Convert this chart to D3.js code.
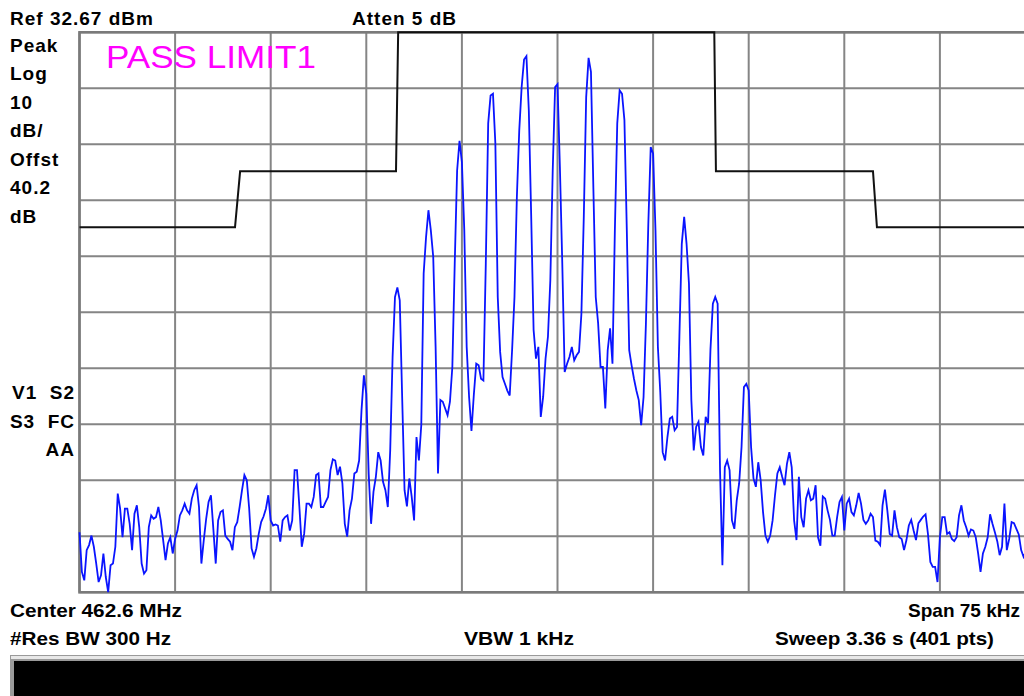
<!DOCTYPE html>
<html><head><meta charset="utf-8">
<script src="https://cdn.jsdelivr.net/npm/d3@7/dist/d3.min.js"></script>
<style>
html,body{margin:0;padding:0;background:#fff;overflow:hidden;}
svg{display:block;}
text{font-family:"Liberation Sans",Arial,sans-serif;}
</style></head><body>
<svg id="c" width="1024" height="696"></svg>
<script>
// ---- instrument settings ----
const refLevelDbm = 32.67;
const dbPerDiv = 10;
const numDivY = 10;
const numDivX = 10;
const spanKHz = 75;
const numPoints = 401;

// ---- trace (dBm), 401 sweep points ----
const traceDbm = [
-56.6,-63.7,-65.2,-59.8,-58.9,-57.2,-59.2,-62.2,-65.5,-64.3,
-60.4,-64.6,-67.3,-62.5,-62.2,-59.2,-49.7,-52.4,-57.5,-52.4,
-52.4,-55.1,-59.8,-53.3,-51.8,-55.7,-62.2,-64.0,-63.4,-55.7,
-53.6,-54.2,-53.9,-52.1,-54.5,-58.0,-61.6,-58.6,-57.5,-60.4,
-57.8,-56.3,-53.6,-52.7,-51.5,-52.7,-53.3,-50.6,-49.1,-48.2,
-52.1,-62.2,-58.0,-54.2,-51.2,-50.0,-56.0,-62.2,-54.5,-53.0,
-52.7,-57.2,-57.8,-58.3,-59.8,-55.7,-54.8,
-52.1,-49.1,-46.4,-47.3,-52.4,-59.5,-61.0,-59.5,-56.9,-54.8,
-53.8,-52.4,-50.0,-54.5,-55.4,-55.2,-55.4,-58.3,-54.5,-53.9,
-53.6,-56.3,-54.5,-45.5,-45.5,-52.1,-59.2,-56.9,-51.5,-51.5,
-52.1,-50.3,-46.4,-46.1,-52.1,-52.1,-51.2,-50.3,-45.5,-43.6,
-43.8,-46.4,-44.9,-47.9,-55.1,-57.4,-52.7,-50.6,-46.1,-45.8,
-43.8,-34.8,-28.6,-31.9,-46.1,-55.1,-49.4,-46.7,-42.3,-43.8,
-47.6,-49.1,-52.1,-42.0,
-25.3,-14.6,-12.9,-15.2,-32.4,-49.1,-52.0,-47.0,-50.3,-54.5,
-39.6,-43.8,-37.5,-10.4,-3.9,0.9,-2.7,-7.4,-23.5,-46.1,
-33.0,-33.3,-34.5,-35.7,-33.3,-27.1,-8.6,8.0,13.3,9.5,
-2.7,-23.5,-32.4,-38.5,-32.0,-26.5,-26.8,-29.2,-29.5,-8.6,
16.4,21.4,21.7,12.8,-14.6,-24.4,-28.9,-30.1,-31.3,-32.2,
-24.1,-14.6,3.3,15.2,22.9,27.8,28.4,18.7,-0.3,-20.5,
-25.6,-23.5,-36.0,-32.4,-25.6,-21.7,-11.6,8.0,22.9,23.4,
8.6,-8.6,-28.0,-26.5,-25.3,-23.5,-25.9,-25.0,-24.4,-17.6,
-0.3,21.1,28.1,25.6,5.0,-14.6,-19.3,-27.1,-27.1,-34.5,
-24.1,-20.2,-26.5,-2.7,16.4,22.3,21.7,17.0,-2.7,-24.1,
-26.8,-29.2,-31.3,-33.0,-37.5,-32.5,-19.3,-1.5,12.2,11.0,
-2.7,-23.5,-31.6,-42.3,-43.8,-39.6,-36.3,-36.0,-38.4,-37.8,
-21.7,-5.1,-0.3,-5.1,-12.2,-33.0,-42.0,-37.8,-36.9,-41.4,
-42.9,-36.0,-37.2,-24.0,-15.8,-14.6,-15.8,
-45.5,-62.5,-45.0,-43.8,-45.5,-54.5,-56.0,-50.9,-47.9,-41.4,
-30.7,-30.1,-31.3,-41.4,-47.0,-48.5,-44.1,-47.3,-53.0,-57.2,
-58.3,-57.2,-54.5,-50.0,-46.1,-45.0,-46.7,-48.2,-44.4,-42.3,
-45.0,-54.5,-58.0,-46.7,-53.9,-55.7,-50.6,-49.1,-50.9,-50.6,
-48.2,-57.5,-59.0,-50.2,-50.6,-52.7,-54.4,-57.2,-57.2,-53.9,
-51.2,-50.3,-56.3,-51.5,-50.6,-53.0,-53.6,-51.8,-49.6,-51.5,
-54.4,-55.1,-54.5,-53.3,-53.9,-58.1,
-58.3,-58.9,-51.8,-49.0,-52.7,-56.9,-57.2,-52.7,-55.7,-57.5,
-57.8,-59.8,-58.0,-55.4,-54.4,-56.3,-58.0,-55.0,-54.4,-53.8,
-53.4,-56.9,-61.9,-62.8,-62.8,-65.5,-57.5,-53.9,-53.9,-56.9,
-56.6,-57.8,-58.2,-57.5,-53.6,-51.8,-54.5,-55.7,-57.2,-56.1,
-56.3,-57.5,-60.4,-63.7,-60.4,-59.2,-57.5,-53.4,-55.1,-56.6,
-58.2,-60.7,-59.2,-51.5,-59.8,-57.8,-54.8,-55.0,-56.0,-57.0,
-59.8,-61.0,-60.0,-58.0,-57.0,-59.0,-60.0
];

// ---- limit line 1 (frequency offset kHz, dBm) ----
const limitFreqKHz = [-37.5, -25.3, -24.9, -12.67, -12.5, 12.3, 12.43, 24.75, 25.06, 37.5];
const limitDbm     = [-2.15, -2.15, 7.85, 7.85, 32.67, 32.67, 7.85, 7.85, -2.15, -2.15];

// ---- annotation texts ----
const topLeftText = "Ref 32.67 dBm";
const topMidText = "Atten 5 dB";
const sideLabelsTop = ["Peak", "Log", "10", "dB/", "Offst", "40.2", "dB"];
const sideLabelsBottom = ["V1  S2", "S3  FC", "AA"];
const passText = "PASS LIMIT1";
const bottomRow1 = ["Center 462.6 MHz", "Span 75 kHz"];
const bottomRow2 = ["#Res BW 300 Hz", "VBW 1 kHz", "Sweep 3.36 s (401 pts)"];

const svg = d3.select("#c");
const W = 1024, H = 696;
svg.append("rect").attr("width", W).attr("height", H).attr("fill", "#fff");

const plot = {left: 79.5, right: 1035.5, top: 32.3, bottom: 592.3};
const x = d3.scaleLinear().domain([-spanKHz / 2, spanKHz / 2]).range([plot.left, plot.right]);
const y = d3.scaleLinear().domain([refLevelDbm - dbPerDiv * numDivY, refLevelDbm]).range([plot.bottom, plot.top]);
const idx = d3.scaleLinear().domain([0, numPoints - 1]).range([-spanKHz / 2, spanKHz / 2]);

// grid
const gx = d3.range(numDivX + 1).map(k => -spanKHz / 2 + k * spanKHz / numDivX);
const gy = d3.range(numDivY + 1).map(k => refLevelDbm - k * dbPerDiv);
const grid = svg.append("g").attr("stroke", "#858585").attr("stroke-width", 2);
grid.selectAll("line.v").data(gx).join("line").attr("class", "v")
  .attr("x1", d => x(d)).attr("x2", d => x(d)).attr("y1", plot.top).attr("y2", plot.bottom);
grid.selectAll("line.h").data(gy).join("line").attr("class", "h")
  .attr("x1", plot.left).attr("x2", plot.right).attr("y1", d => y(d)).attr("y2", d => y(d));
svg.append("rect").attr("x", plot.left).attr("y", plot.top)
  .attr("width", plot.right - plot.left).attr("height", plot.bottom - plot.top)
  .attr("fill", "none").attr("stroke", "#7a7a7a").attr("stroke-width", 2.6);

// limit line
const limPts = limitFreqKHz.map((f, i) => [f, limitDbm[i]]);
svg.append("path").datum(limPts)
  .attr("d", d3.line().x(d => x(d[0])).y(d => y(d[1])))
  .attr("fill", "none").attr("stroke", "#111").attr("stroke-width", 2);

// trace
svg.append("path").datum(traceDbm)
  .attr("d", d3.line().x((d, i) => x(idx(i))).y(d => y(d)))
  .attr("fill", "none").attr("stroke", "#0a14ff").attr("stroke-width", 1.8)
  .attr("stroke-linejoin", "miter");

// texts
const bold = {"font-weight": "bold", "font-size": "19px", "fill": "#000", "letter-spacing": "1px"};
function txt(s, xx, yy, anchor, opts) {
  const t = svg.append("text").attr("x", xx).attr("y", yy).attr("text-anchor", anchor || "start").text(s);
  Object.entries(opts || bold).forEach(([k, v]) => t.attr(k, v));
  return t;
}
txt(topLeftText, 10, 25);
txt(topMidText, 352, 25);
sideLabelsTop.forEach((s, i) => txt(s, 10, 51.5 + i * 28.5));
sideLabelsBottom.forEach((s, i) => txt(s, 75, 399 + i * 28.5, "end").attr("xml:space", "preserve").style("white-space", "pre"));
txt(passText, 106, 68, "start", {"font-size": "32px", "fill": "#ff00ff", "textLength": 210, "lengthAdjust": "spacingAndGlyphs"});

const cond = {"font-weight": "bold", "font-size": "19px", "fill": "#000"};
txt(bottomRow1[0], 10, 617, "start", Object.assign({}, cond, {textLength: 172, lengthAdjust: "spacingAndGlyphs"}));
txt(bottomRow1[1], 1020, 617, "end", Object.assign({}, cond));
txt(bottomRow2[0], 10, 645, "start", Object.assign({}, cond, {textLength: 161, lengthAdjust: "spacingAndGlyphs"}));
txt(bottomRow2[1], 464, 645, "start", Object.assign({}, cond, {textLength: 110, lengthAdjust: "spacingAndGlyphs"}));
txt(bottomRow2[2], 775, 645, "start", Object.assign({}, cond, {textLength: 219, lengthAdjust: "spacingAndGlyphs"}));

// status bar
svg.append("rect").attr("x", 10).attr("y", 655).attr("width", 1030).attr("height", 50).attr("fill", "#9a9a9a");
svg.append("rect").attr("x", 11).attr("y", 656).attr("width", 1030).attr("height", 3).attr("fill", "#e8e8e8");
svg.append("rect").attr("x", 14).attr("y", 661).attr("width", 1030).attr("height", 40).attr("fill", "#000");
</script></body></html>
